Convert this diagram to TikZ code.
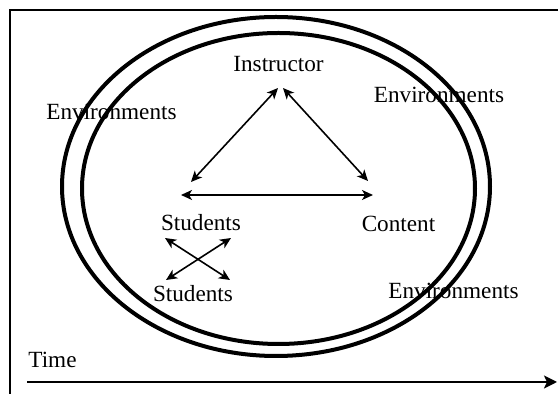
\documentclass[tikz,border=0pt]{standalone}
\usepackage{fontspec}
\setmainfont{Liberation Serif}
\usetikzlibrary{arrows.meta}

\begin{document}
\begin{tikzpicture}[x=0.5pt,y=-0.5pt,
    lbl/.style={anchor=base, inner sep=0pt, font=\fontsize{11.6}{14}\selectfont},
    ring/.style={line width=2pt},
    link/.style={{Stealth[length=5.5pt,width=5pt,inset=1.5pt]}-{Stealth[length=5.5pt,width=5pt,inset=1.5pt]}, line width=0.8pt}]
    \useasboundingbox (0,0) rectangle (558,394);
    \draw [line width=0.75pt] (10,394) -- (10,10) -- (558,10);

    \draw [ring] (276,186.5) ellipse [x radius=214, y radius=169.5];
    \draw [ring] (278.5,188.5) ellipse [x radius=196.5, y radius=155.5];

    \node (instr) [lbl] at (278.5,72) {Instructor};
    \node (stud) [lbl] at (201,231) {Students};
    \node (cont) [lbl] at (398.5,232) {Content};
    \node (stud2) [lbl] at (193,302) {Students};
    \node (envL) [lbl] at (111.5,120) {Environments};
    \node (envR) [lbl] at (439,103) {Environments};
    \node (envB) [lbl] at (453.5,299) {Environments};
    \node (time) [lbl, anchor=base west] at (28,368) {Time};

    % arrow ends
    \coordinate (iL) at (278,88);
    \coordinate (iR) at (283,88);
    \coordinate (sT) at (191,182);
    \coordinate (cT) at (368,181);
    \coordinate (sH) at (181,195);
    \coordinate (cH) at (373,195);
    \coordinate (xa) at (165,238);
    \coordinate (xb) at (231,238);
    \coordinate (xc) at (166,280);
    \coordinate (xd) at (230,280);
    \coordinate (t0) at (27,382);
    \coordinate (t1) at (557,382);

    \draw [link] (iL) -- (sT);
    \draw [link] (iR) -- (cT);
    \draw [link] (sH) -- (cH);
    \draw [link] (xa) -- (xd);
    \draw [link] (xb) -- (xc);
    \draw [-{Stealth[length=6.5pt,width=6.5pt,inset=1.5pt]}, line width=1pt] (t0) -- (t1);
\end{tikzpicture}
\end{document}
